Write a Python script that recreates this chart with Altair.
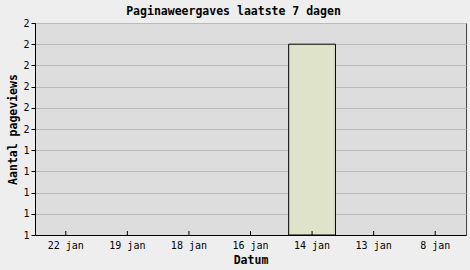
import altair as alt
import pandas as pd

dates = ["22 jan", "19 jan", "18 jan", "16 jan", "14 jan", "13 jan", "8 jan"]
views = [1, 1, 1, 1, 1.9, 1, 1]
y_ticks = [1.0, 1.1, 1.2, 1.3, 1.4, 1.5, 1.6, 1.7, 1.8, 1.9, 2.0]

df = pd.DataFrame({"Datum": dates, "views": views})

FONT = "DejaVu Sans Mono"

x_enc = alt.X("Datum:N", sort=dates, title="Datum",
              scale=alt.Scale(paddingInner=0.24, paddingOuter=0.12),
              axis=alt.Axis(labelAngle=0, ticks=False, domainColor="black",
                            labelFont=FONT, labelFontSize=10, labelColor="black",
                            labelPadding=5, titleFont=FONT, titleFontSize=11.5,
                            titleFontWeight="bold", titleColor="black", titlePadding=4))
y_scale = alt.Scale(domain=[1, 2], zero=False, nice=False)

bars = alt.Chart(df).mark_bar(color="#dee3c9", strokeWidth=1).encode(
    x=x_enc,
    y=alt.Y("views:Q", scale=y_scale, title="Aantal pageviews",
            axis=alt.Axis(values=y_ticks, format=".0f", tickSize=4, tickColor="black",
                          domainColor="black", gridColor="#bbbbbb", grid=True,
                          labelFont=FONT, labelFontSize=10, labelColor="black",
                          labelPadding=2, titleFont=FONT, titleFontSize=11.5,
                          titleFontWeight="bold", titleColor="black", titlePadding=4)),
    y2=alt.datum(1),
    stroke=alt.condition("datum.views > 1", alt.value("black"), alt.value(None)),
)

ticks = alt.Chart(df).mark_rule(color="black").encode(
    x=alt.X("Datum:N", sort=dates),
    y=alt.value(212),
    y2=alt.value(208),
)

chart = alt.layer(bars, ticks).properties(
    width=431, height=212,
    title=alt.TitleParams("Paginaweergaves laatste 7 dagen", font=FONT, fontSize=11.5,
                          fontWeight="bold", color="black", anchor="middle",
                          dx=-17, offset=1),
    background="#eeeeee",
    autosize=alt.AutoSizeParams(type="none"),
    padding={"left": 35, "top": 23, "right": 4, "bottom": 35},
).configure_view(fill="#dddddd", stroke="#444444", strokeWidth=1)

chart.save("out.html", embed_options={"renderer": "svg", "actions": False})
